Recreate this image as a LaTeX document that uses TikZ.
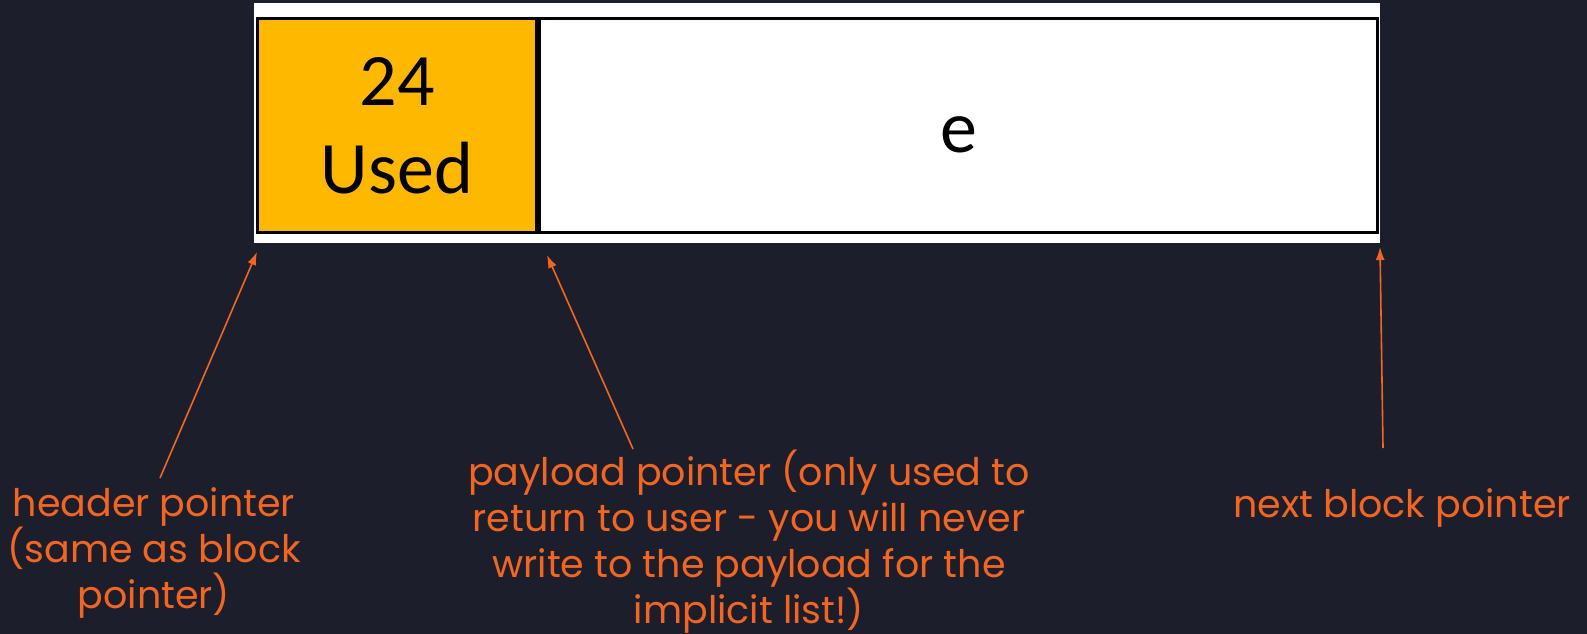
\documentclass[tikz,border=0pt]{standalone}
\usepackage{fontspec}
\setmainfont{Poppins}
\newfontfamily\boxfont{Carlito}
\usetikzlibrary{arrows.meta}
\definecolor{slide}{RGB}{28,31,43}
\definecolor{note}{RGB}{242,101,34}
\definecolor{used}{RGB}{255,184,0}

\begin{document}
\begin{tikzpicture}[x=1pt,y=-1pt,
  cell/.style={draw=black,line width=3pt,anchor=north west,minimum height=214pt,
    inner sep=0pt,align=center,font=\boxfont\fontsize{74}{88}\selectfont},
  note/.style={text=note,align=center,font=\fontsize{38}{46}\selectfont},
  ptr/.style={draw=note,line width=1.6pt,-{Latex[length=13pt,width=9pt]}}]

\useasboundingbox (0,0) rectangle (1587,634);
\fill[slide] (0,0) rectangle (1587,634);
\fill[white] (254,3) rectangle (1380,243);

% the block
\node[cell,fill=used,minimum width=279pt] (hdr) at (256,17) {24\\Used};
\node[cell,fill=white,minimum width=838pt] (payload) at (hdr.north east) {};
\node[font=\boxfont\fontsize{74}{88}\selectfont] (data) at ([yshift=-9pt]payload.center) {e};

% labels
\node[note] (hdrtxt) at (154,553) {header pointer\\(same as block\\pointer)};
\node[note] (paytxt) at (749,542) {payload pointer (only used to\\return to user - you will never\\write to the payload for the\\implicit list!)};
\node[note] (nexttxt) at (1402,508) {next block pointer};

% pointers
\coordinate (hdrtip) at (257,252);
\coordinate (paytip) at (547,255);
\coordinate (nexttip) at (1380,247);
\coordinate (hdrtail) at (160,478);
\coordinate (paytail) at (633,449);
\coordinate (nexttail) at (1383,448);
\draw[ptr] (hdrtail) -- (hdrtip);
\draw[ptr] (paytail) -- (paytip);
\draw[ptr] (nexttail) -- (nexttip);

\end{tikzpicture}
\end{document}
